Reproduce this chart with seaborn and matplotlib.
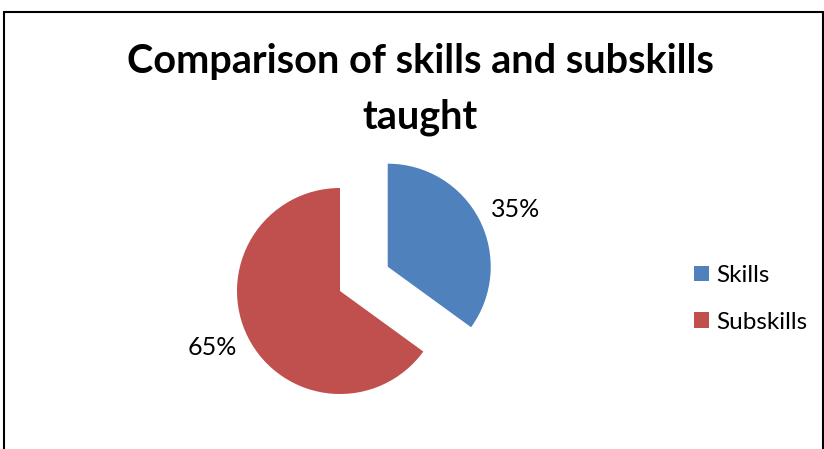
import matplotlib
matplotlib.use("Agg")
import numpy as np
import matplotlib.pyplot as plt
from matplotlib.lines import Line2D
from matplotlib.patches import Patch
import seaborn as sns

categories = ["Skills", "Subskills"]
shares = [35, 65]
explode = [0.52, 0.0]
title_lines = ["Comparison of skills and subskills", "taught"]

sns.set_theme(style="white")
plt.rcParams["font.family"] = ["Lato", "DejaVu Sans"]
plt.rcParams["text.color"] = "black"
colors = sns.color_palette(["#4F81BD", "#C0504D"])

W, H = 824, 449
fig = plt.figure(figsize=(W / 100, H / 100), dpi=100)
fig.patch.set_facecolor("white")

# pie axes placed by pixel box, centred on the main pie centre
cx, cy, half = 340, 291, 150
R = 103
ax = fig.add_axes([(cx - half) / W, (H - cy - half) / H, 2 * half / W, 2 * half / H])
wedges, _, pct_texts = ax.pie(
    shares, explode=explode, colors=colors, startangle=90, counterclock=False,
    radius=1.0, autopct="%1.0f%%", pctdistance=1.36,
    textprops=dict(fontsize=18, color="black"),
    wedgeprops=dict(linewidth=0))

# nudge the percentage labels slightly clockwise around their wedge
for w, t in zip(wedges, pct_texts):
    ang = np.deg2rad((w.theta1 + w.theta2) / 2 - 3.0)
    x0, y0 = w.center
    t.set_position((x0 + 1.36 * np.cos(ang), y0 + 1.36 * np.sin(ang)))

lim = half / R
ax.set_xlim(-lim, lim)
ax.set_ylim(-lim, lim)
ax.set_aspect("equal")
ax.axis("off")

for line, base in zip(title_lines, [73, 128]):
    fig.text(420 / W, 1 - base / H, line, ha="center", va="baseline",
             fontsize=28.5, fontweight="bold", color="black")

handles = [Patch(facecolor=c, edgecolor="none") for c in colors]
fig.legend(handles, categories, loc="center left",
           bbox_to_anchor=(694 / W, 1 - 298.75 / H),
           frameon=False, fontsize=17.5, handlelength=0.62, handleheight=0.62,
           handletextpad=0.3, labelspacing=1.05, borderpad=0, borderaxespad=0,
           labelcolor="black")

# outer chart border (left, top, right)
lw = 1.5
fig.add_artist(Line2D([4 / W, 4 / W], [0, 1 - 12 / H], color="black", lw=lw))
fig.add_artist(Line2D([4 / W, 823 / W], [1 - 12 / H, 1 - 12 / H], color="black", lw=lw))
fig.add_artist(Line2D([823 / W, 823 / W], [0, 1 - 12 / H], color="black", lw=lw))

fig.savefig("out.png", dpi=100, facecolor="white")
